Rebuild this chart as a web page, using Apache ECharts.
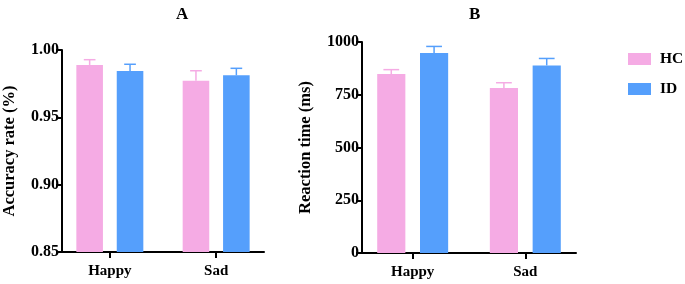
<!DOCTYPE html>
<html>
<head>
<meta charset="utf-8">
<script src="https://cdn.jsdelivr.net/npm/echarts@6/dist/echarts.min.js"></script>
<style>
  html, body { margin: 0; padding: 0; background: #fff; }
  #chart { width: 685px; height: 284px; }
</style>
</head>
<body>
<div id="chart"></div>
<script>
const categories = ["Happy", "Sad"];
const groups = ["HC", "ID"];

// panel A: accuracy rate (mean, SEM)
const accHC = [0.9889, 0.9772];
const accHCErr = [0.0039, 0.0074];
const accID = [0.9844, 0.9812];
const accIDErr = [0.005, 0.0052];
const accTicks = [0.85, 0.9, 0.95, 1.0];

// panel B: reaction time in ms (mean, SEM)
const rtHC = [848, 782];
const rtHCErr = [21, 25];
const rtID = [948, 889];
const rtIDErr = [31, 33];
const rtTicks = [0, 250, 500, 750, 1000];

const colors = ["#F5ABE4", "#559FFC"];
const font = "'Liberation Serif', 'Times New Roman', serif";

function barRenderer(side, base, capUnits) {
  return (params, api) => {
    const ci = api.value(0);
    const v = api.value(1);
    const e = api.value(2);
    const unit = api.size([1, 0])[0];
    const cx = api.coord([ci, v])[0] + side * 0.19 * unit;
    const w = 0.25 * unit;
    const top = api.coord([ci, v])[1];
    const bottom = api.coord([ci, base])[1];
    const errTop = api.coord([ci, v + e])[1];
    const cap = capUnits * unit / 2;
    const color = api.visual("color");
    return {
      type: "group",
      children: [
        {
          type: "rect",
          shape: { x: cx - w / 2, y: top, width: w, height: bottom - top },
          style: { fill: color },
        },
        {
          type: "line",
          shape: { x1: cx, y1: top, x2: cx, y2: errTop },
          style: { stroke: color, lineWidth: 1.5 },
        },
        {
          type: "line",
          shape: { x1: cx - cap, y1: errTop, x2: cx + cap, y2: errTop },
          style: { stroke: color, lineWidth: 1.5 },
        },
      ],
    };
  };
}

function seriesFor(name, side, means, errs, axisIndex, base, capUnits) {
  return {
    name: name,
    type: "custom",
    xAxisIndex: axisIndex,
    yAxisIndex: axisIndex,
    itemStyle: { color: colors[side < 0 ? 0 : 1] },
    encode: { x: 0, y: 1 },
    renderItem: barRenderer(side, base, capUnits),
    data: means.map((m, i) => [i, m, errs[i]]),
  };
}

function xAxisFor(gridIndex) {
  return {
    type: "value",
    gridIndex: gridIndex,
    min: -0.45,
    max: 1.45,
    splitLine: { show: false },
    axisLine: { onZero: false, lineStyle: { color: "#000", width: 2 } },
    axisTick: { customValues: [0, 1], length: 6, lineStyle: { color: "#000", width: 2 } },
    axisLabel: {
      customValues: [0, 1],
      formatter: (v) => categories[Math.round(v)],
      margin: 12,
      color: "#000",
      fontFamily: font,
      fontWeight: "bold",
      fontSize: 15,
    },
  };
}

function yAxisFor(gridIndex, ticks, name, nameGap, digits) {
  return {
    type: "value",
    gridIndex: gridIndex,
    min: ticks[0],
    max: ticks[ticks.length - 1],
    interval: ticks[1] - ticks[0],
    name: name,
    nameLocation: "middle",
    nameGap: nameGap,
    nameTextStyle: { color: "#000", fontFamily: font, fontWeight: "bold", fontSize: 16.5 },
    splitLine: { show: false },
    axisLine: { show: true, onZero: false, lineStyle: { color: "#000", width: 2 } },
    axisTick: { show: true, length: 6, lineStyle: { color: "#000", width: 2 } },
    axisLabel: {
      margin: 3,
      color: "#000",
      fontFamily: font,
      fontWeight: "bold",
      fontSize: 16,
      formatter: (v) => v.toFixed(digits),
    },
  };
}

const chart = echarts.init(document.getElementById("chart"));
chart.setOption({
  animation: false,
  title: [
    { text: "A", left: 171, top: 1, textStyle: { fontFamily: font, fontWeight: "bold", fontSize: 17, color: "#000" } },
    { text: "B", left: 464, top: 1, textStyle: { fontFamily: font, fontWeight: "bold", fontSize: 17, color: "#000" } },
  ],
  legend: {
    data: groups,
    orient: "vertical",
    left: 623,
    top: 46,
    icon: "rect",
    itemWidth: 23,
    itemHeight: 12,
    itemGap: 14,
    textStyle: { fontFamily: font, fontWeight: "bold", fontSize: 15.5, color: "#000", padding: [0, 0, 0, 4] },
  },
  grid: [
    { left: 60, top: 50, width: 204, height: 202 },
    { left: 362, top: 42, width: 214, height: 211 },
  ],
  xAxis: [xAxisFor(0), xAxisFor(1)],
  yAxis: [
    yAxisFor(0, accTicks, "Accuracy rate (%)", 44, 2),
    yAxisFor(1, rtTicks, "Reaction time (ms)", 48, 0),
  ],
  series: [
    seriesFor("HC", -1, accHC, accHCErr, 0, accTicks[0], 0.11),
    seriesFor("ID", 1, accID, accIDErr, 0, accTicks[0], 0.11),
    seriesFor("HC", -1, rtHC, rtHCErr, 1, rtTicks[0], 0.14),
    seriesFor("ID", 1, rtID, rtIDErr, 1, rtTicks[0], 0.14),
  ],
});
</script>
</body>
</html>
